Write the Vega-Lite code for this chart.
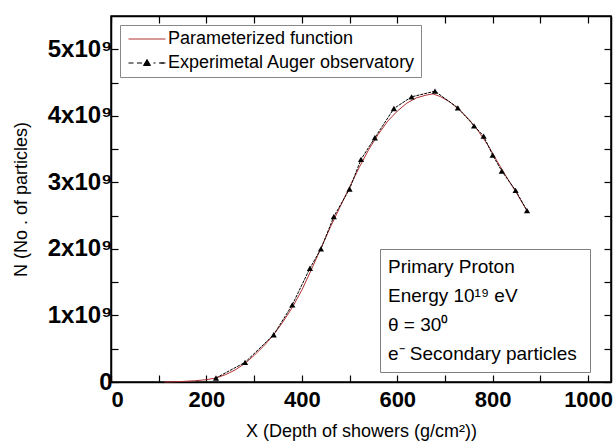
{
  "$schema": "https://vega.github.io/schema/vega-lite/v6.json",
  "width": 500,
  "height": 366,
  "padding": {"left": 12, "top": 15, "right": 0, "bottom": 1},
  "background": "white",
  "datasets": {
    "param": [
      {"X": 112, "N": 0.0},
      {"X": 130, "N": 0.003e9},
      {"X": 150, "N": 0.008e9},
      {"X": 175, "N": 0.018e9},
      {"X": 200, "N": 0.035e9},
      {"X": 220, "N": 0.06e9},
      {"X": 240, "N": 0.11e9},
      {"X": 260, "N": 0.18e9},
      {"X": 281, "N": 0.28e9},
      {"X": 300, "N": 0.40e9},
      {"X": 320, "N": 0.54e9},
      {"X": 340, "N": 0.70e9},
      {"X": 360, "N": 0.90e9},
      {"X": 380, "N": 1.12e9},
      {"X": 400, "N": 1.38e9},
      {"X": 420, "N": 1.69e9},
      {"X": 440, "N": 2.01e9},
      {"X": 460, "N": 2.33e9},
      {"X": 480, "N": 2.63e9},
      {"X": 500, "N": 2.93e9},
      {"X": 520, "N": 3.22e9},
      {"X": 540, "N": 3.49e9},
      {"X": 560, "N": 3.72e9},
      {"X": 580, "N": 3.92e9},
      {"X": 600, "N": 4.07e9},
      {"X": 620, "N": 4.19e9},
      {"X": 640, "N": 4.27e9},
      {"X": 660, "N": 4.31e9},
      {"X": 675, "N": 4.33e9},
      {"X": 690, "N": 4.29e9},
      {"X": 710, "N": 4.21e9},
      {"X": 730, "N": 4.09e9},
      {"X": 750, "N": 3.95e9},
      {"X": 770, "N": 3.77e9},
      {"X": 790, "N": 3.56e9},
      {"X": 810, "N": 3.31e9},
      {"X": 830, "N": 3.07e9},
      {"X": 850, "N": 2.84e9},
      {"X": 872, "N": 2.57e9}
    ],
    "exp": [
      {"X": 220, "N": 0.06e9},
      {"X": 281, "N": 0.295e9},
      {"X": 341, "N": 0.71e9},
      {"X": 380, "N": 1.16e9},
      {"X": 417, "N": 1.71e9},
      {"X": 440, "N": 2.0e9},
      {"X": 467, "N": 2.485e9},
      {"X": 500, "N": 2.9e9},
      {"X": 524, "N": 3.345e9},
      {"X": 553, "N": 3.67e9},
      {"X": 593, "N": 4.11e9},
      {"X": 630, "N": 4.285e9},
      {"X": 679, "N": 4.37e9},
      {"X": 727, "N": 4.12e9},
      {"X": 761, "N": 3.85e9},
      {"X": 781, "N": 3.695e9},
      {"X": 800, "N": 3.41e9},
      {"X": 819, "N": 3.17e9},
      {"X": 848, "N": 2.88e9},
      {"X": 872, "N": 2.575e9}
    ]
  },
  "layer": [
    {
      "data": {"name": "param"},
      "mark": {"type": "line", "strokeWidth": 1},
      "encoding": {
        "x": {
          "field": "X", "type": "quantitative",
          "scale": {"domain": [0, 1048], "nice": false, "zero": true},
          "axis": {
            "orient": "bottom",
            "values": [0, 100, 200, 300, 400, 500, 600, 700, 800, 900, 1000],
            "labelExpr": "datum.value % 200 === 0 ? '' + datum.value : ''",
            "labelFontSize": 22,
            "labelPadding": 14,
            "title": "X (Depth of showers (g/cm²))",
            "titlePadding": 12
          }
        },
        "y": {
          "field": "N", "type": "quantitative",
          "scale": {"domain": [0, 5.5e9], "nice": false},
          "axis": {
            "orient": "left",
            "values": [0, 0.5e9, 1e9, 1.5e9, 2e9, 2.5e9, 3e9, 3.5e9, 4e9, 4.5e9, 5e9],
            "labelExpr": "datum.value === 0 ? '0' : (datum.value % 1e9 === 0 ? (datum.value / 1e9) + 'x10⁹' : '')",
            "labelFontSize": 24,
            "labelPadding": 6,
            "title": "N (No . of particles)",
            "titlePadding": 17
          }
        },
        "color": {
          "datum": "Parameterized function",
          "scale": {"domain": ["Parameterized function", "Experimetal Auger observatory"], "range": ["#b03030", "black"]},
          "legend": {
            "orient": "top-left",
            "offset": 9,
            "title": null,
            "padding": 5,
            "strokeColor": "#888888",
            "fillColor": "white",
            "labelFont": "Liberation Sans",
            "labelFontSize": 18,
            "labelColor": "black",
            "labelLimit": 400,
            "rowPadding": 6,
            "symbolSize": 100,
            "labelOffset": 25,
            "encode": {
              "symbols": {
                "update": {
                  "shape": {"signal": "datum.value === 'Experimetal Auger observatory' ? 'M-1.1,0H-0.1M0.6,0H1.6M2.3,0H2.7M3.9,0H4.3M5,0H6M5.3,0H6.3M2.6,-0.7L3.3,0.5L1.9,0.5Z' : 'M-1.1,0H6.3'"},
                  "fill": {"signal": "datum.value === 'Experimetal Auger observatory' ? 'black' : 'transparent'"},
                  "stroke": {"signal": "datum.value === 'Experimetal Auger observatory' ? 'black' : '#b03030'"},
                  "strokeWidth": {"value": 1},
                  "opacity": {"value": 1}
                }
              }
            }
          }
        }
      }
    },
    {
      "data": {"name": "exp"},
      "mark": {"type": "line", "strokeWidth": 1, "strokeDash": [3, 1]},
      "encoding": {
        "x": {"field": "X", "type": "quantitative", "axis": null},
        "y": {"field": "N", "type": "quantitative", "axis": null},
        "color": {"datum": "Experimetal Auger observatory"}
      }
    },
    {
      "data": {"name": "exp"},
      "mark": {"type": "point", "filled": true, "size": 38, "opacity": 1, "color": "black"},
      "encoding": {
        "x": {
          "field": "X", "type": "quantitative",
          "axis": {
            "orient": "top",
            "values": [0, 100, 200, 300, 400, 500, 600, 700, 800, 900, 1000],
            "labels": false,
            "title": null
          }
        },
        "y": {
          "field": "N", "type": "quantitative",
          "axis": {
            "orient": "right",
            "values": [0, 0.5e9, 1e9, 1.5e9, 2e9, 2.5e9, 3e9, 3.5e9, 4e9, 4.5e9, 5e9],
            "labels": false,
            "title": null
          }
        },
        "shape": {
          "datum": "Primary Proton",
          "scale": {
            "domain": ["Primary Proton", "Energy 10¹⁹  eV", "θ = 30⁰", "e⁻  Secondary particles"],
            "range": ["triangle-up", "triangle-up", "triangle-up", "triangle-up"]
          },
          "legend": {
            "orient": "none",
            "legendX": 269,
            "legendY": 233,
            "title": null,
            "padding": 8,
            "strokeColor": "#808080",
            "fillColor": "white",
            "labelFont": "Liberation Sans",
            "labelFontSize": 19,
            "labelColor": "black",
            "labelLimit": 400,
            "rowPadding": 9,
            "symbolSize": 0,
            "symbolOpacity": 0,
            "symbolStrokeWidth": 0,
            "labelOffset": -19
          }
        }
      }
    }
  ],
  "resolve": {"axis": {"x": "independent", "y": "independent"}},
  "config": {
    "view": {"stroke": "black", "strokeWidth": 1.5},
    "axis": {
      "grid": false,
      "domainColor": "black",
      "domainWidth": 1.5,
      "tickColor": "black",
      "tickWidth": 1.2,
      "tickSize": -7,
      "labelFont": "Liberation Sans",
      "labelFontWeight": "bold",
      "labelColor": "black",
      "titleFont": "Liberation Sans",
      "titleFontSize": 18,
      "titleFontWeight": "normal",
      "titleColor": "black"
    }
  }
}
